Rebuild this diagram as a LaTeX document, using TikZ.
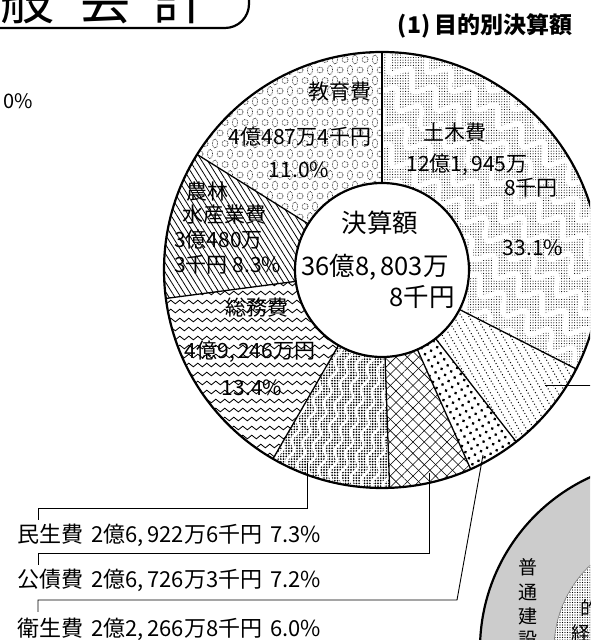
\documentclass[tikz,border=0pt]{standalone}
\usepackage{fontspec}
\setmainfont{Noto Sans CJK JP}
\usetikzlibrary{patterns.meta,decorations.pathmorphing,calc}
\newcommand{\fsz}[1]{\fontsize{#1}{#1}\selectfont}
\newcommand{\pieslice}[2]{(C) -- ($(C)+(#1:218pt)$) arc[start angle=#1,end angle=#2,radius=218pt] -- cycle}
\begin{document}
\begin{tikzpicture}[x=1pt,y=1pt,
  radial/.style={line width=1.3pt},
  rim/.style={line width=2.2pt},
  leader/.style={line width=0.9pt},
  slicetxt/.style={inner sep=0pt, font=\fsz{21}},
  bigtxt/.style={inner sep=0pt, font=\fsz{25.5}},
  btmtxt/.style={inner sep=0pt, anchor=west, font=\fsz{22}},
  ringtxt/.style={inner sep=0pt, font=\fsz{19}},
  wavy/.style={decorate, decoration={snake, amplitude=1.8pt, segment length=9pt}},
  whiteworm/.style={white, decorate, decoration={snake, amplitude=#1, segment length=30pt}},
]
\useasboundingbox (0,0) rectangle (590,640);
\clip (0,0) rectangle (590,640);
\fill[white] (0,0) rectangle (590,640);
\coordinate (C) at (382,370);

% ---------- title box ----------
\draw[line width=2.2pt, rounded corners=24pt] (-10,612) -- (249,612) -- (249,660);
\node[anchor=base, inner sep=0pt, font=\fsz{54}] (t1) at (27,620) {般};
\node[anchor=base, inner sep=0pt, font=\fsz{54}] (t2) at (105,620) {会};
\node[anchor=base, inner sep=0pt, font=\fsz{54}] (t3) at (180,620) {計};
\node[inner sep=0pt, font=\fsz{23}\bfseries] (hdr) at (485,614) {(1)\,目的別決算額};
\node[inner sep=0pt, font=\fsz{20}] (pct0) at (18,539) {0\%};

% ---------- second circle (bottom right) ----------
\fill[gray!40] (669,-9) circle[radius=189pt];
\draw[rim] (669,-9) circle[radius=189pt];
\fill[white] (669,-9) circle[radius=115pt];
\fill[pattern={Dots[distance=2.5pt,radius=0.6pt]}] (669,-9) circle[radius=115pt];
\draw[line width=0.6pt, gray] (669,-9) circle[radius=115pt];
\node[ringtxt] (r1) at (528,73) {普};
\node[ringtxt] (r2) at (528,48) {通};
\node[ringtxt] (r3) at (528,24) {建};
\node[ringtxt] (r4) at (528,0) {設};
\node[ringtxt] (r5) at (590,32) {的};
\node[ringtxt] (r6) at (581,7) {経};

% ---------- pie patterns ----------
% 土木費
\begin{scope}
  \clip \pieslice{90}{-27};
  \fill[pattern={Dots[distance=2.6pt,radius=0.55pt]}] (C) circle[radius=220pt];
  \begin{scope}[shift={(C)}, rotate=-38]
    \foreach \k in {-2,...,10}
      \draw[whiteworm=8pt, line width=5pt] (-140,\k*24) -- (240,\k*24);
  \end{scope}
\end{scope}
% dotted lines slice
\begin{scope}
  \clip \pieslice{-27}{-52};
  \begin{scope}[shift={(C)}, rotate=-60]
    \foreach \k in {-5,...,30}
      \draw[line width=1pt, dash pattern=on 1pt off 2.2pt] (0,\k*6.5) -- (240,\k*6.5);
  \end{scope}
\end{scope}
% dots slice
\begin{scope}
  \clip \pieslice{-52}{-66};
  \fill[pattern={Dots[distance=7pt,radius=1.6pt,angle=30]}] (C) circle[radius=220pt];
\end{scope}
% cross-hatch slice
\begin{scope}
  \clip \pieslice{-66}{-88};
  \fill[pattern={Lines[distance=8pt,angle=45,line width=0.55pt]}] (C) circle[radius=220pt];
  \fill[pattern={Lines[distance=8pt,angle=-45,line width=0.55pt]}] (C) circle[radius=220pt];
\end{scope}
% wavy dotted slice
\begin{scope}
  \clip \pieslice{-88}{-120};
  \fill[pattern={Dots[distance=2.7pt,radius=0.95pt]}] (C) circle[radius=220pt];
  \begin{scope}[shift={(C)}, rotate=-104]
    \foreach \k in {-8,...,8}
      \draw[white, line width=2.4pt, decorate, decoration={snake, amplitude=2.5pt, segment length=22pt}] (80,\k*11) -- (230,\k*11);
  \end{scope}
\end{scope}
% 総務費 wavy lines
\begin{scope}
  \clip \pieslice{-120}{-172.5};
  \foreach \k in {0,...,26}
    \draw[wavy, line width=0.85pt] (150,176+\k*9) -- (395,176+\k*9);
\end{scope}
% 農林 hatch
\begin{scope}
  \clip \pieslice{-172.5}{-212};
  \fill[pattern={Lines[distance=5pt,angle=-58,line width=0.8pt]}] (C) circle[radius=220pt];
\end{scope}
% 教育費 dotted ovals
\begin{scope}
  \clip \pieslice{148}{90};
  \foreach \i in {0,...,23}
    \foreach \j in {0,...,22} {
      \pgfmathsetmacro{\px}{160+\i*10+mod(\j,2)*5}
      \pgfmathsetmacro{\py}{360+\j*10.5}
      \ifodd\i
        \draw[line width=0.65pt, dash pattern=on 0.7pt off 0.9pt] (\px,\py) ellipse[x radius=2.6pt, y radius=4.6pt];
      \else
        \draw[line width=0.65pt, dash pattern=on 0.7pt off 0.9pt] (\px,\py) circle[radius=3pt];
      \fi
    }
\end{scope}

% ---------- pie outline ----------
\foreach \a in {90,-27,-52,-66,-88,-120,-172.5,148}
  \draw[radial] (C) -- ($(C)+(\a:218pt)$);
\draw[rim] (C) circle[radius=218pt];
\node[circle, fill=white, draw, line width=2.2pt, minimum size=174pt, inner sep=0pt] (ctr) at (C) {};

% ---------- slice texts ----------
\node[slicetxt] (e1) at (340,548) {教育費};
\node[slicetxt] (e2) at (300,503) {4億487万4千円};
\node[slicetxt] (e3) at (299,470) {11.0\%};
\node[slicetxt] (d1) at (455,507) {土木費};
\node[slicetxt] (d2) at (467,475) {12億1,\,945万};
\node[slicetxt] (d3) at (531,452) {8千円};
\node[slicetxt] (d4) at (533,392) {33.1\%};
\node[bigtxt] (k1) at (380,417) {決算額};
\node[bigtxt] (k2) at (375,373) {36億8,\,803万};
\node[bigtxt] (k3) at (422,343) {8千円};
\node[slicetxt, anchor=west] (n1) at (186,448) {農林};
\node[slicetxt, anchor=west] (n2) at (182,425) {水産業費};
\node[slicetxt, anchor=west] (n3) at (174,400) {3億480万};
\node[slicetxt, anchor=west] (n4) at (174,375) {3千円 8.3\%};
\node[slicetxt] (s1) at (257,332) {総務費};
\node[slicetxt] (s2) at (250,288) {4億9,\,246万円};
\node[slicetxt] (s3) at (252,252) {13.4\%};

% ---------- bottom labels & leaders ----------
\node[btmtxt] (L1) at (17,105) {民生費\hspace{8pt}2億6,\,922万6千円\hspace{8pt}7.3\%};
\node[btmtxt] (L2) at (17,60) {公債費\hspace{8pt}2億6,\,726万3千円\hspace{8pt}7.2\%};
\node[btmtxt] (L3) at (17,11) {衛生費\hspace{8pt}2億2,\,266万8千円\hspace{8pt}6.0\%};
\coordinate (m0) at (307,177);
\coordinate (m1) at (38,120);
\coordinate (k0) at (429,167);
\coordinate (k1e) at (38,75);
\coordinate (h0) at (483,185);
\coordinate (h1) at (457,40);
\coordinate (h2) at (38,28);
\coordinate (x0) at (545,255);
\coordinate (x1) at (595,255);
\draw[leader] (m0) |- (38,132) -- (m1);
\draw[leader] (k0) |- (38,87) -- (k1e);
\draw[leader] (h0) -- (h1) -- (38,40) -- (h2);
\draw[leader] (x0) -- (x1);
\end{tikzpicture}
\end{document}
